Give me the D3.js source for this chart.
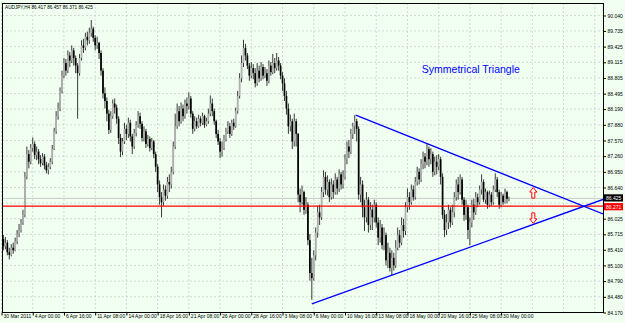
<!DOCTYPE html>
<html lang="en">
  <head>
    <meta charset="utf-8">
    <title>AUDJPY,H4</title>
    <script src="https://d3js.org/d3.v7.min.js"></script>
    <style>
      body { margin: 0; background: #f0fff0; }
      svg { display: block; font-family: "Liberation Sans", Arial, sans-serif; }
    </style>
  </head>
  <body>
    <div id="main"></div>
    <script>
      // H4 bars, 30 Mar - 30 May 2011 (open of each bar = close of the one before)
      var firstOpen = 85.70;
      var closes = [
        85.62, 85.48, 85.55, 85.36, 85.31, 85.45, 85.40, 85.58, 85.72, 85.80,
        85.95, 86.10, 86.85, 87.30, 87.15, 87.42, 87.50, 87.28, 87.35, 87.20,
        87.12, 87.25, 87.08, 86.98, 87.05, 87.15, 87.40, 87.75, 88.05, 88.20,
        88.55, 88.85, 89.10, 88.95, 89.25, 89.15, 89.35, 89.20, 89.05, 88.90,
        89.20, 89.45, 89.40, 89.62, 89.55, 89.70, 89.78, 89.60, 89.45, 89.50,
        89.30, 88.95, 88.50, 88.35, 88.10, 87.78, 88.05, 88.30, 88.22, 88.00,
        87.62, 87.35, 87.55, 87.80, 87.70, 87.92, 87.65, 87.45, 87.72, 87.88,
        88.05, 87.90, 87.62, 87.75, 87.50, 87.60, 87.42, 87.55, 87.30, 87.05,
        86.70, 86.45, 86.35, 86.60, 86.48, 86.75, 86.70, 86.95, 87.45, 87.85,
        88.15, 87.95, 88.20, 88.05, 88.30, 88.25, 88.40, 88.10, 87.80, 87.95,
        87.85, 88.00, 87.92, 88.05, 87.88, 87.95, 88.10, 88.30, 88.15, 87.95,
        87.70, 87.55, 87.35, 87.42, 87.60, 87.75, 87.85, 87.70, 87.92, 87.85,
        88.15, 88.45, 88.80, 89.10, 89.40, 89.25, 89.05, 88.85, 89.00, 88.90,
        88.70, 88.95, 88.80, 89.02, 88.85, 88.90, 88.75, 89.05, 88.92, 89.10,
        89.00, 89.15, 89.05, 88.85, 88.70, 88.45, 88.20, 87.85, 87.95, 87.55,
        87.95, 87.70, 86.50, 86.35, 86.55, 86.20, 86.30, 85.60, 84.95, 84.85,
        85.30, 85.75, 86.15, 86.05, 86.55, 86.85, 86.60, 86.75, 86.45, 86.70,
        86.55, 86.80, 86.62, 86.90, 86.70, 86.85, 87.20, 87.45, 87.35, 87.70,
        87.85, 87.95, 87.80, 86.50, 86.70, 86.25, 86.05, 86.40, 85.90, 86.20,
        86.05, 86.30, 85.95, 85.65, 85.85, 85.50, 85.70, 85.20, 85.35, 85.05,
        85.25, 85.10, 85.45, 85.70, 85.55, 85.90, 85.78, 86.25, 86.45, 86.35,
        86.60, 86.45, 86.75, 86.95, 86.80, 87.10, 87.25, 87.15, 87.40, 87.20,
        87.30, 86.95, 87.15, 87.05, 87.20, 86.85, 86.10, 85.80, 85.95, 86.20,
        85.95, 86.15, 86.45, 86.70, 86.55, 86.80, 86.40, 86.10, 86.25, 85.80,
        85.95, 86.30, 86.15, 86.45, 86.35, 86.60, 86.75, 86.40, 86.55, 86.30,
        86.50, 86.35, 86.60, 86.80, 86.55, 86.30, 86.48, 86.35, 86.55, 86.417, 86.425
      ];
      var highs = [
        85.78, 85.70, 85.66, 85.60, 85.45, 85.52, 85.55, 85.65, 85.80, 85.92,
        86.02, 86.20, 86.95, 87.45, 87.38, 87.50, 87.63, 87.55, 87.45, 87.40,
        87.28, 87.32, 87.30, 87.15, 87.12, 87.22, 87.48, 87.82, 88.15, 88.32,
        88.62, 88.95, 89.20, 89.18, 89.35, 89.32, 89.45, 89.40, 89.25, 89.10,
        89.28, 89.55, 89.58, 89.70, 89.72, 89.80, 89.95, 89.82, 89.65, 89.62,
        89.52, 89.35, 89.00, 88.62, 88.42, 88.18, 88.15, 88.38, 88.40, 88.28,
        88.05, 87.70, 87.62, 87.92, 87.88, 88.02, 87.98, 87.70, 87.80, 87.95,
        88.15, 88.12, 87.95, 87.85, 87.80, 87.68, 87.65, 87.62, 87.58, 87.35,
        87.10, 86.78, 86.55, 86.70, 86.68, 86.85, 86.90, 87.05, 87.55, 88.10,
        88.30, 88.25, 88.32, 88.28, 88.38, 88.42, 88.52, 88.45, 88.15, 88.05,
        88.02, 88.08, 88.05, 88.12, 88.08, 88.02, 88.20, 88.46, 88.40, 88.20,
        87.98, 87.78, 87.62, 87.55, 87.68, 87.82, 87.95, 87.92, 87.98, 88.00,
        88.22, 88.55, 88.90, 89.25, 89.56, 89.48, 89.30, 89.10, 89.12, 89.08,
        89.00, 89.10, 89.05, 89.12, 89.08, 89.02, 88.98, 89.15, 89.12, 89.28,
        89.20, 89.30, 89.22, 89.10, 88.92, 88.80, 88.55, 88.30, 88.08, 88.00,
        88.10, 88.00, 87.72, 86.62, 86.68, 86.58, 86.45, 86.35, 85.72, 85.25,
        85.40, 85.85, 86.28, 86.30, 86.65, 86.98, 86.95, 86.88, 86.80, 86.82,
        86.78, 86.92, 86.85, 87.00, 86.95, 86.98, 87.30, 87.55, 87.58, 87.80,
        87.92, 88.07, 88.00, 87.85, 86.85, 86.78, 86.40, 86.55, 86.45, 86.35,
        86.30, 86.40, 86.35, 86.05, 86.00, 85.92, 85.85, 85.75, 85.55, 85.45,
        85.40, 85.35, 85.60, 85.85, 85.80, 86.05, 86.02, 86.35, 86.62, 86.55,
        86.70, 86.68, 86.85, 87.05, 87.02, 87.20, 87.35, 87.32, 87.52, 87.45,
        87.42, 87.35, 87.25, 87.28, 87.30, 87.25, 86.92, 86.20, 86.12, 86.30,
        86.25, 86.30, 86.55, 86.80, 86.85, 86.90, 86.85, 86.45, 86.40, 86.30,
        86.05, 86.40, 86.42, 86.55, 86.52, 86.68, 86.90, 86.80, 86.62, 86.58,
        86.58, 86.55, 86.68, 86.92, 86.85, 86.60, 86.55, 86.52, 86.62, 86.58, 86.457
      ];
      var lows = [
        85.55, 85.40, 85.42, 85.30, 85.22, 85.28, 85.33, 85.38, 85.52, 85.66,
        85.75, 85.90, 86.05, 86.80, 87.02, 87.10, 87.35, 87.20, 87.18, 87.10,
        87.05, 87.08, 87.00, 86.92, 86.90, 87.00, 87.10, 87.38, 87.70, 87.98,
        88.15, 88.50, 88.80, 88.85, 88.90, 89.02, 89.10, 89.05, 88.90, 88.00,
        88.85, 89.15, 89.30, 89.35, 89.45, 89.48, 89.62, 89.52, 89.35, 89.38,
        89.18, 88.85, 88.40, 88.20, 87.95, 87.70, 87.72, 88.00, 88.10, 87.90,
        87.50, 87.24, 87.28, 87.50, 87.58, 87.62, 87.55, 87.30, 87.40, 87.65,
        87.82, 87.80, 87.55, 87.55, 87.42, 87.45, 87.35, 87.38, 87.22, 86.95,
        86.55, 86.30, 86.05, 86.28, 86.38, 86.42, 86.55, 86.62, 86.90, 87.40,
        87.80, 87.85, 87.90, 87.95, 88.00, 88.10, 88.18, 88.02, 87.70, 87.75,
        87.80, 87.82, 87.85, 87.88, 87.82, 87.85, 87.90, 88.05, 88.05, 87.88,
        87.62, 87.48, 87.22, 87.25, 87.38, 87.55, 87.70, 87.62, 87.66, 87.78,
        87.82, 88.10, 88.40, 88.72, 89.02, 89.15, 88.98, 88.75, 88.80, 88.78,
        88.62, 88.65, 88.72, 88.75, 88.78, 88.80, 88.65, 88.70, 88.85, 88.88,
        88.90, 88.95, 88.95, 88.78, 88.55, 88.35, 88.08, 87.70, 87.75, 87.40,
        87.45, 87.45, 86.35, 86.15, 86.30, 86.10, 86.12, 85.50, 84.80, 84.42,
        84.80, 85.20, 85.65, 85.90, 86.00, 86.45, 86.50, 86.48, 86.35, 86.40,
        86.42, 86.50, 86.50, 86.55, 86.60, 86.62, 86.80, 87.10, 87.22, 87.30,
        87.60, 87.70, 87.55, 86.40, 86.35, 86.05, 85.78, 85.95, 85.75, 85.80,
        85.80, 85.95, 85.85, 85.50, 85.55, 85.42, 85.40, 85.10, 85.05, 84.98,
        84.91, 85.00, 85.05, 85.40, 85.45, 85.50, 85.65, 85.70, 86.15, 86.20,
        86.30, 86.38, 86.40, 86.68, 86.70, 86.75, 87.00, 87.02, 87.08, 87.05,
        87.10, 86.85, 86.88, 86.90, 86.98, 86.70, 86.02, 85.66, 85.70, 85.82,
        85.85, 85.90, 86.05, 86.38, 86.40, 86.50, 86.30, 85.98, 86.00, 85.62,
        85.50, 85.85, 86.00, 86.10, 86.25, 86.30, 86.50, 86.35, 86.32, 86.22,
        86.25, 86.28, 86.30, 86.55, 86.45, 86.22, 86.25, 86.30, 86.32, 86.33, 86.371
      ];

      var priceTicks = [90.040, 89.735, 89.425, 89.115, 88.805, 88.495, 88.190, 87.880, 87.570, 87.260,
                        86.950, 86.640, 86.330, 86.025, 85.715, 85.410, 85.100, 84.790, 84.480, 84.170];
      var timeLabels = ["30 Mar 2011", "4 Apr 00:00", "6 Apr 16:00", "11 Apr 08:00", "14 Apr 00:00",
                        "18 Apr 16:00", "21 Apr 08:00", "26 Apr 00:00", "28 Apr 16:00", "3 May 08:00",
                        "6 May 00:00", "10 May 16:00", "13 May 08:00", "18 May 00:00", "20 May 16:00",
                        "25 May 08:00", "30 May 00:00"];
      var barsPerLabel = 16;
      var title = "AUDJPY,H4 86.417 86.457 86.371 86.425";
      var bidPrice = 86.425;
      var hLinePrice = 86.271;
      // triangle sides as [bar, price] pairs
      var upperSide = [[181.5, 88.07], [308.2, 86.12]];
      var lowerSide = [[159, 84.34], [308.2, 86.404]];
      var upArrow = {bar: 272.5, price: 86.53};
      var downArrow = {bar: 272.5, price: 86.04};
      var note = {bar: 240.5, price: 88.90, text: "Symmetrical Triangle"};

      var W = 625, H = 323;
      var plot = {left: 2, right: 603, top: 3, bottom: 312};

      var bars = closes.map(function(c, i) {
        var o = i ? closes[i - 1] : firstOpen;
        return {i: i, o: o, c: c,
                h: Math.max(highs[i], o, c), l: Math.min(lows[i], o, c)};
      });

      var x = d3.scaleLinear().domain([0, 308.2]).range([1.5, plot.right]);
      var y = d3.scaleLinear().domain([84.170, 90.040]).range([312.5, 15.5]);

      var svg = d3.select("#main").append("svg")
        .attr("width", W)
        .attr("height", H);

      svg.append("rect").attr("width", W).attr("height", H).attr("fill", "#f0fff0");

      svg.append("clipPath").attr("id", "clip").append("rect")
        .attr("x", plot.left).attr("y", plot.top)
        .attr("width", plot.right - plot.left).attr("height", plot.bottom - plot.top);

      // grid
      var grid = svg.append("g").attr("stroke", "#c4c8c4").attr("stroke-width", 0.7)
        .attr("stroke-dasharray", "2,2");
      grid.selectAll(".hg").data(priceTicks).enter().append("line")
        .attr("x1", plot.left).attr("x2", plot.right)
        .attr("y1", function(d) { return y(d); }).attr("y2", function(d) { return y(d); });
      grid.selectAll(".vg").data(d3.range(0, 309, barsPerLabel)).enter().append("line")
        .attr("y1", plot.top).attr("y2", plot.bottom)
        .attr("x1", function(d) { return x(d); }).attr("x2", function(d) { return x(d); });

      var chart = svg.append("g").attr("clip-path", "url(#clip)");

      // bid line
      chart.append("line")
        .attr("x1", plot.left).attr("x2", plot.right)
        .attr("y1", y(bidPrice)).attr("y2", y(bidPrice))
        .attr("stroke", "#c0c0c0").attr("stroke-width", 0.8);

      // candles
      var candle = chart.selectAll(".candle").data(bars).enter().append("g");
      candle.append("line")
        .attr("x1", function(d) { return x(d.i); }).attr("x2", function(d) { return x(d.i); })
        .attr("y1", function(d) { return y(d.h); }).attr("y2", function(d) { return y(d.l); })
        .attr("stroke", "#222").attr("stroke-width", 0.9);
      candle.append("rect")
        .attr("x", function(d) { return x(d.i) - 0.85; })
        .attr("width", 1.7)
        .attr("y", function(d) { return y(Math.max(d.o, d.c)); })
        .attr("height", function(d) { return Math.max(0.7, Math.abs(y(d.o) - y(d.c))); })
        .attr("fill", function(d) { return d.c >= d.o ? "#b0b0b0" : "#000"; });

      // horizontal line and triangle
      chart.append("line")
        .attr("x1", plot.left).attr("x2", plot.right)
        .attr("y1", y(hLinePrice)).attr("y2", y(hLinePrice))
        .attr("stroke", "#ff0000").attr("stroke-width", 1.2);
      var side = d3.line().x(function(d) { return x(d[0]); }).y(function(d) { return y(d[1]); });
      chart.selectAll(".side").data([upperSide, lowerSide]).enter().append("path")
        .attr("d", side).attr("fill", "none")
        .attr("stroke", "#0000ff").attr("stroke-width", 1.3);

      // arrows
      var arrowUp = "M0,-5.5 L3.6,-1 L1.5,-1 L1.5,5 L-1.5,5 L-1.5,-1 L-3.6,-1 Z";
      var arrowDown = "M0,5.5 L3.6,1 L1.5,1 L1.5,-5 L-1.5,-5 L-1.5,1 L-3.6,1 Z";
      chart.selectAll(".arrow").data([[upArrow, arrowUp], [downArrow, arrowDown]]).enter().append("path")
        .attr("transform", function(d) { return "translate(" + x(d[0].bar) + "," + y(d[0].price) + ")"; })
        .attr("d", function(d) { return d[1]; })
        .attr("fill", "#fff").attr("stroke", "#ff0000").attr("stroke-width", 1);

      chart.append("text")
        .attr("x", x(note.bar)).attr("y", y(note.price))
        .attr("text-anchor", "middle")
        .attr("fill", "#0000ff").attr("font-size", 10.5)
        .text(note.text);

      // frame
      svg.append("rect")
        .attr("x", plot.left + 0.5).attr("y", plot.top + 0.5)
        .attr("width", plot.right - plot.left).attr("height", plot.bottom - plot.top)
        .attr("fill", "none").attr("stroke", "#000").attr("stroke-width", 1);

      svg.append("text").attr("x", 5).attr("y", 8.8)
        .attr("font-size", 4.7).attr("fill", "#000").text(title);

      // price scale
      var yAxis = svg.append("g")
        .attr("transform", "translate(" + (plot.right + 0.5) + ",0)")
        .call(d3.axisRight(y).tickValues(priceTicks).tickFormat(d3.format(".3f"))
          .tickSize(2.5).tickPadding(1.5));
      yAxis.select(".domain").remove();
      yAxis.selectAll("text").attr("font-size", 5).attr("font-family", "Liberation Sans, Arial, sans-serif");
      yAxis.selectAll(".tick").filter(function(d) { return d === 86.330; }).remove();

      // time scale
      var xAxis = svg.append("g")
        .attr("transform", "translate(0," + (plot.bottom + 0.5) + ")")
        .call(d3.axisBottom(x)
          .tickValues(timeLabels.map(function(t, i) { return i * barsPerLabel; }))
          .tickFormat(function(d, i) { return timeLabels[i]; })
          .tickSize(3));
      xAxis.select(".domain").remove();
      xAxis.selectAll("text")
        .attr("font-size", 5).attr("font-family", "Liberation Sans, Arial, sans-serif")
        .attr("text-anchor", "start").attr("x", 1.5).attr("y", 2.2).attr("dy", "0.71em");

      // price tags
      var tags = svg.selectAll(".tag").data([[bidPrice, "#000", -0.5], [hLinePrice, "#ff0000", 0.5]])
        .enter().append("g")
        .attr("transform", function(d) { return "translate(" + (plot.right + 1) + "," + (y(d[0]) + d[2]) + ")"; });
      tags.append("rect").attr("x", 0).attr("y", -3.6).attr("width", 19).attr("height", 7.2)
        .attr("fill", function(d) { return d[1]; });
      tags.append("text").attr("x", 2).attr("y", 1.8).attr("font-size", 5).attr("fill", "#fff")
        .text(function(d) { return d3.format(".3f")(d[0]); });
    </script>
  </body>
</html>
